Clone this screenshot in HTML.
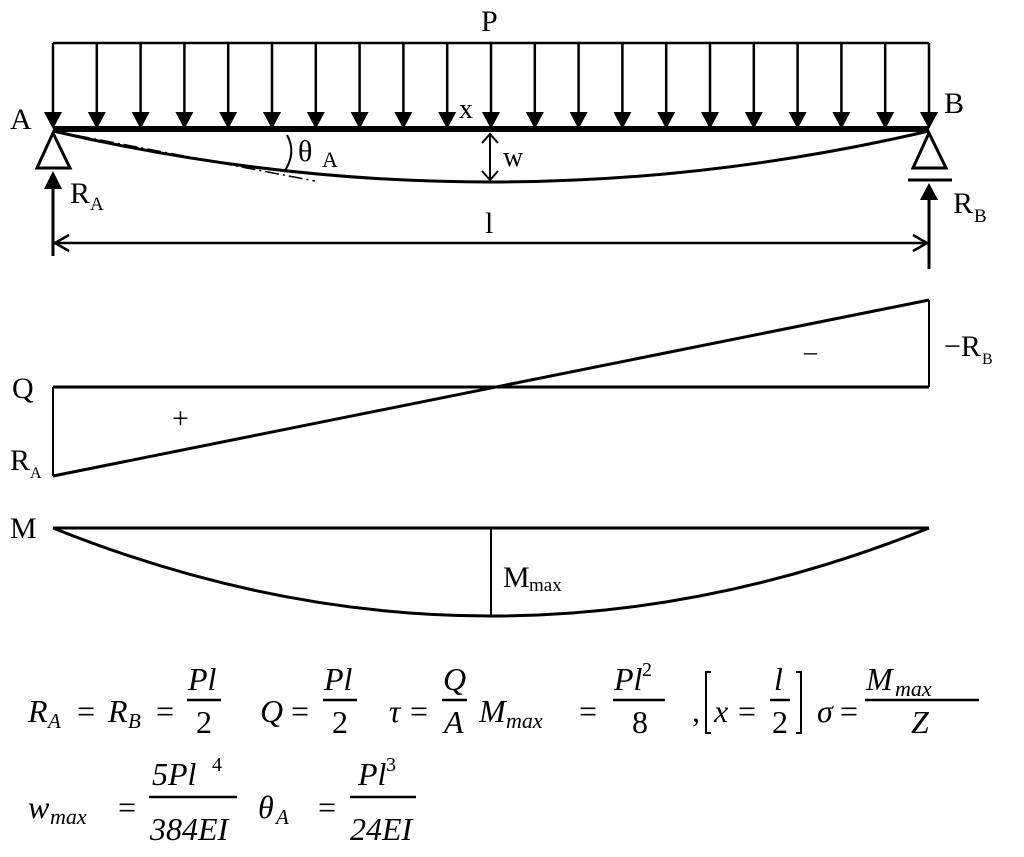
<!DOCTYPE html>
<html><head><meta charset="utf-8"><style>
html,body{margin:0;padding:0;background:#fff;}
svg{display:block;}
.t{font-family:"Liberation Serif",serif;fill:#000;font-style:normal;}
.i{font-family:"Liberation Serif",serif;font-style:italic;fill:#000;}
</style></head><body>
<svg width="1024" height="857" viewBox="0 0 1024 857" xmlns="http://www.w3.org/2000/svg">
<g stroke="#000" fill="none">
<line x1="53" y1="43" x2="929" y2="43" stroke-width="2.5"/>
<g stroke-width="2.5">
<line x1="53" y1="43" x2="53" y2="115"/><line x1="96.8" y1="43" x2="96.8" y2="115"/><line x1="140.6" y1="43" x2="140.6" y2="115"/><line x1="184.4" y1="43" x2="184.4" y2="115"/><line x1="228.2" y1="43" x2="228.2" y2="115"/><line x1="272" y1="43" x2="272" y2="115"/><line x1="315.8" y1="43" x2="315.8" y2="115"/><line x1="359.6" y1="43" x2="359.6" y2="115"/><line x1="403.4" y1="43" x2="403.4" y2="115"/><line x1="447.2" y1="43" x2="447.2" y2="115"/><line x1="491" y1="43" x2="491" y2="115"/><line x1="534.8" y1="43" x2="534.8" y2="115"/><line x1="578.6" y1="43" x2="578.6" y2="115"/><line x1="622.4" y1="43" x2="622.4" y2="115"/><line x1="666.2" y1="43" x2="666.2" y2="115"/><line x1="710" y1="43" x2="710" y2="115"/><line x1="753.8" y1="43" x2="753.8" y2="115"/><line x1="797.6" y1="43" x2="797.6" y2="115"/><line x1="841.4" y1="43" x2="841.4" y2="115"/><line x1="885.2" y1="43" x2="885.2" y2="115"/><line x1="929" y1="43" x2="929" y2="115"/>
</g>
<line x1="53" y1="129" x2="929" y2="129" stroke-width="6"/>
<path d="M53,131 Q491,233 929,131" stroke-width="3"/>
<line x1="53" y1="131" x2="315" y2="181" stroke-width="1.5" stroke-dasharray="14,4,2,4"/>
<path d="M287,135 Q297,153 284,172" stroke-width="2"/>
<line x1="490" y1="134" x2="490" y2="180" stroke-width="2"/>
<polyline points="482,143 490,134 498,143" stroke-width="2"/>
<polyline points="482,171 490,180 498,171" stroke-width="2"/>
<polygon points="53,133 37,168 70,168" stroke-width="3" fill="#fff"/>
<polygon points="929,133 913,168 946,168" stroke-width="3" fill="#fff"/>
<line x1="908" y1="180" x2="952" y2="180" stroke-width="3"/>
<line x1="53" y1="185" x2="53" y2="256" stroke-width="3"/>
<line x1="929" y1="195" x2="929" y2="269" stroke-width="3"/>
<line x1="53" y1="243" x2="929" y2="243" stroke-width="2.5"/>
<polyline points="69,235 55,243 69,251" stroke-width="2.5"/>
<polyline points="913,235 927,243 913,251" stroke-width="2.5"/>
<line x1="53" y1="387" x2="929" y2="387" stroke-width="3"/>
<line x1="53" y1="387" x2="53" y2="476" stroke-width="2"/>
<line x1="53" y1="476" x2="929" y2="300" stroke-width="3"/>
<line x1="929" y1="300" x2="929" y2="387" stroke-width="2"/>
<line x1="53" y1="528" x2="929" y2="528" stroke-width="3"/>
<path d="M53,528 Q491,704 929,528" stroke-width="3"/>
<line x1="491" y1="528" x2="491" y2="616" stroke-width="2"/>
<g stroke-width="2.5">
<line x1="187" y1="700" x2="221" y2="700"/>
<line x1="323" y1="700" x2="357" y2="700"/>
<line x1="442" y1="700" x2="467" y2="700"/>
<line x1="613" y1="700" x2="665" y2="700"/>
<line x1="770" y1="700" x2="790" y2="700"/>
<line x1="865" y1="700" x2="979" y2="700"/>
<line x1="149" y1="797" x2="237" y2="797"/>
<line x1="350" y1="797" x2="416" y2="797"/>
</g>
<polyline points="711,672 706,672 706,733 711,733" stroke-width="2"/>
<polyline points="796,672 801,672 801,733 796,733" stroke-width="2"/>
</g>
<g fill="#000">
<polygon points="44,112 62,112 53,129"/><polygon points="87.8,112 105.8,112 96.8,129"/><polygon points="131.6,112 149.6,112 140.6,129"/><polygon points="175.4,112 193.4,112 184.4,129"/><polygon points="219.2,112 237.2,112 228.2,129"/><polygon points="263,112 281,112 272,129"/><polygon points="306.8,112 324.8,112 315.8,129"/><polygon points="350.6,112 368.6,112 359.6,129"/><polygon points="394.4,112 412.4,112 403.4,129"/><polygon points="438.2,112 456.2,112 447.2,129"/><polygon points="482,112 500,112 491,129"/><polygon points="525.8,112 543.8,112 534.8,129"/><polygon points="569.6,112 587.6,112 578.6,129"/><polygon points="613.4,112 631.4,112 622.4,129"/><polygon points="657.2,112 675.2,112 666.2,129"/><polygon points="701,112 719,112 710,129"/><polygon points="744.8,112 762.8,112 753.8,129"/><polygon points="788.6,112 806.6,112 797.6,129"/><polygon points="832.4,112 850.4,112 841.4,129"/><polygon points="876.2,112 894.2,112 885.2,129"/><polygon points="920,112 938,112 929,129"/>
<polygon points="44,189 62,189 53,171"/>
<polygon points="920,200 938,200 929,183"/>
</g>
<g class="t" font-size="30">
<text x="481" y="31">P</text>
<text x="10" y="129">A</text>
<text x="944" y="113">B</text>
<text x="459" y="118" font-size="28">x</text>
<text x="503" y="166" font-size="28">w</text>
<text x="298" y="161" font-size="30">θ</text><text x="322" y="167" font-size="22">A</text>
<text x="70" y="203">R</text><text x="90" y="210" font-size="19">A</text>
<text x="953" y="213">R</text><text x="974" y="222" font-size="19">B</text>
<text x="485" y="233">l</text>
<text x="12" y="398">Q</text>
<text x="10" y="470">R</text><text x="30" y="478" font-size="16">A</text>
<text x="172" y="428" font-size="30">+</text>
<text x="804" y="360" font-size="26">–</text>
<text x="944" y="356">−R</text><text x="982" y="364" font-size="16">B</text>
<text x="10" y="538">M</text>
<text x="503" y="587">M</text><text x="529" y="591" font-size="19">max</text>
</g>
<g class="i" font-size="32">
<text x="28" y="722">R</text><text x="48" y="728" font-size="21">A</text>
<text x="77" y="722" class="t">=</text>
<text x="108" y="722">R</text><text x="128" y="728" font-size="21">B</text>
<text x="156" y="722" class="t">=</text>
<text x="188" y="690">Pl</text><text x="196" y="733" class="t">2</text>
<text x="260" y="722">Q</text><text x="291" y="722" class="t">=</text>
<text x="324" y="690">Pl</text><text x="332" y="733" class="t">2</text>
<text x="389" y="722">τ</text><text x="410" y="722" class="t">=</text>
<text x="443" y="690">Q</text><text x="444" y="733">A</text>
<text x="479" y="722">M</text><text x="506" y="728" font-size="22">max</text>
<text x="579" y="722" class="t">=</text>
<text x="614" y="690">Pl</text><text x="642" y="676" font-size="20" class="t">2</text><text x="632" y="733" class="t">8</text>
<text x="692" y="722" class="t">,</text>
<text x="714" y="722">x</text><text x="738" y="722" class="t">=</text>
<text x="774" y="690">l</text><text x="772" y="733" class="t">2</text>
<text x="817" y="722">σ</text><text x="840" y="722" class="t">=</text>
<text x="866" y="690">M</text><text x="895" y="696" font-size="22">max</text>
<text x="911" y="733">Z</text>
<text x="28" y="818">w</text><text x="50" y="824" font-size="22">max</text>
<text x="118" y="818" class="t">=</text>
<text x="152" y="785">5Pl</text><text x="212" y="771" font-size="20" class="t">4</text>
<text x="150" y="840">384EI</text>
<text x="258" y="818">θ</text><text x="276" y="824" font-size="21">A</text>
<text x="318" y="818" class="t">=</text>
<text x="358" y="785">Pl</text><text x="386" y="771" font-size="20" class="t">3</text>
<text x="350" y="840">24EI</text>
</g>
</svg>
</body></html>
